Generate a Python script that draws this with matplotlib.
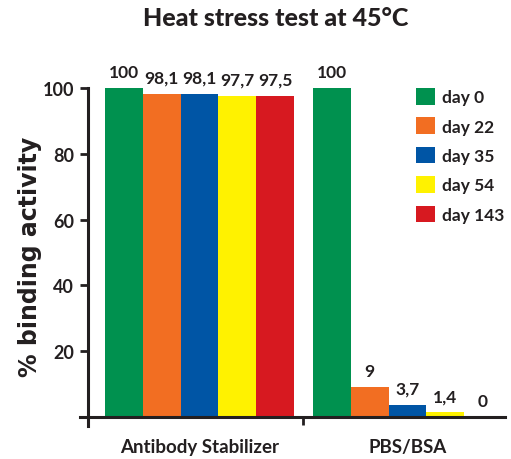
import numpy as np
import matplotlib
matplotlib.use('Agg')
import matplotlib.pyplot as plt
from matplotlib.patches import Patch

# data
groups = ['Antibody Stabilizer', 'PBS/BSA']
days = ['day 0', 'day 22', 'day 35', 'day 54', 'day 143']
stabilizer = [100, 98.1, 98.1, 97.7, 97.5]
pbs_bsa = [100, 9, 3.7, 1.4, 0]
colors = ['#00914F', '#F26E22', '#0055A5', '#FFF200', '#D71920']

plt.rcParams['font.family'] = ['Lato', 'DejaVu Sans']

fig = plt.figure(figsize=(5.11, 4.60), dpi=100)
ax = fig.add_axes([80/511, 1 - 418/460, (505 - 80)/511, (418 - 89)/460])

x1 = np.arange(5)
x2 = np.arange(5) + 5.5
ax.bar(x1, stabilizer, width=1.0, color=colors)
ax.bar(x2, pbs_bsa, width=1.0, color=colors)

def fmt(v):
    return str(v).replace('.0', '') if float(v).is_integer() else str(v).replace('.', ',')

for xs, vals in [(x1, stabilizer), (x2, pbs_bsa)]:
    for xx, v in zip(xs, vals):
        ax.annotate(fmt(v), (xx, v), xytext=(0, 6), textcoords='offset points',
                    ha='center', va='bottom', fontsize=12.5, fontweight='bold',
                    color='#231f20', annotation_clip=False)

ax.set_xlim(-1.16, 10.08)
ax.set_ylim(0, 100)

ax.spines['top'].set_visible(False)
ax.spines['right'].set_visible(False)
ax.spines['left'].set_position(('data', -0.95))
ax.spines['left'].set_bounds(-2.6, 100)
for s in ['left', 'bottom']:
    ax.spines[s].set_linewidth(2.2)
    ax.spines[s].set_color('#231f20')

ax.set_yticks([20, 40, 60, 80, 100])
ax.tick_params(axis='y', direction='out', length=6, width=2, color='#231f20',
               labelsize=13, pad=4)
for lab in ax.get_yticklabels():
    lab.set_fontweight('bold')
    lab.set_color('#231f20')

ax.set_xticks([2, 7.5])
ax.set_xticklabels(groups, fontsize=13.5, fontweight='bold', color='#231f20')
ax.tick_params(axis='x', which='major', length=0, pad=15)
ax.set_xticks([4.74], minor=True)
ax.tick_params(axis='x', which='minor', direction='out', length=6, width=2, color='#231f20')

ax.set_ylabel('% binding activity', fontsize=17, fontweight='bold', color='#231f20',
              family='DejaVu Sans')
ax.yaxis.set_label_coords(-0.09, 0.49)
fig.suptitle('Heat stress test at 45°C', x=0.54, y=0.985, fontsize=18,
             fontweight='black', color='#231f20')

handles = [Patch(facecolor=c, edgecolor='none') for c in colors]
leg = ax.legend(handles, days, loc='upper left', bbox_to_anchor=(416/511, 1 - 89/460),
                bbox_transform=fig.transFigure, frameon=False, borderpad=0,
                handlelength=1.1, handleheight=1.1, handletextpad=0.4,
                labelspacing=0.7, fontsize=12.5, borderaxespad=0)
for t in leg.get_texts():
    t.set_fontweight('bold')
    t.set_color('#231f20')

fig.savefig('out.png', dpi=100)
